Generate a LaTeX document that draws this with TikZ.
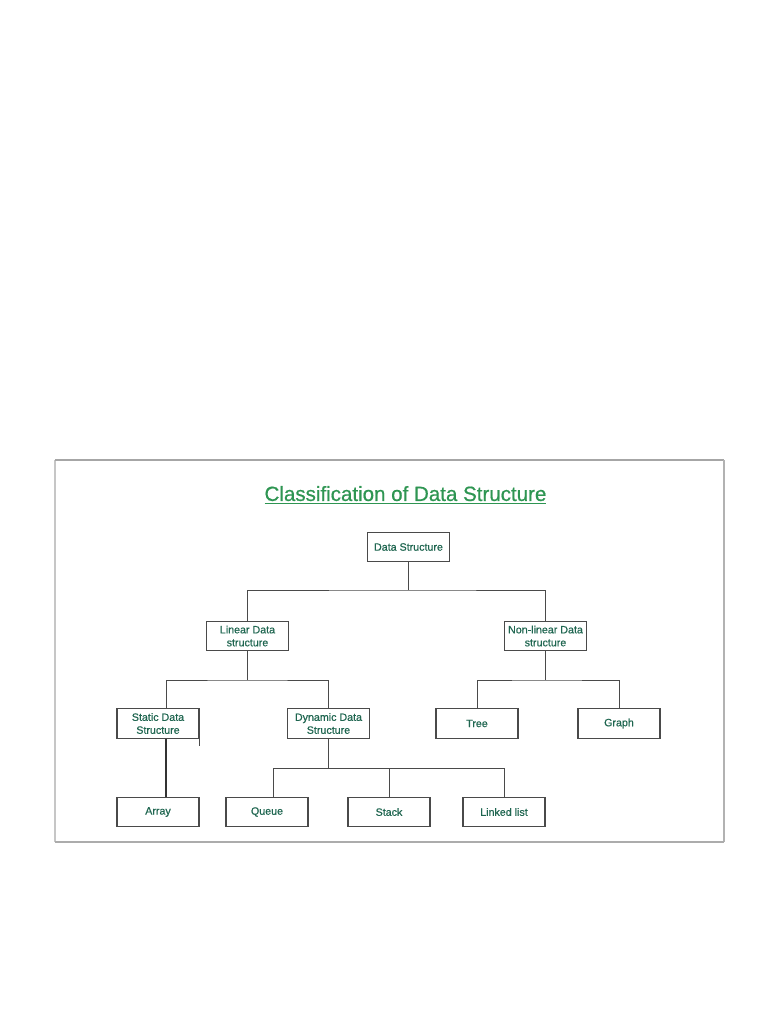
\documentclass[tikz,border=0pt]{standalone}
\usepackage{fontspec}
\setmainfont{Liberation Sans}
\newfontfamily\semib[FakeBold=0.6]{Liberation Sans}
\newfontfamily\titlef[FakeBold=0.7]{Liberation Sans}
\definecolor{titlegreen}{HTML}{2E9552}
\definecolor{boxtext}{HTML}{1F6650}
\definecolor{lineg}{HTML}{4A4A4A}
\begin{document}
\begin{tikzpicture}[x=0.025cm,y=-0.025cm,
  dsbox/.style={draw=lineg,line width=0.8pt,fill=white,minimum width=2.05cm,minimum height=0.74cm,
    inner sep=1pt,align=center,text=boxtext,font=\semib\fontsize{7.6}{9.2}\selectfont},
  conn/.style={draw=lineg,line width=0.7pt}]
\useasboundingbox (0,0) rectangle (768,1024);
% frame
\draw[gray!45,line width=0.8pt] (55,460) -- (55,842);
\draw[gray!70,line width=0.9pt] (55,460) -- (724,460);
\draw[gray!60,line width=1pt] (724,460) -- (724,842);
\draw[gray!65,line width=2pt] (55,842) -- (724,842);
% title
\node[text=titlegreen,font=\titlef\fontsize{14.6}{17}\selectfont] (title) at (405.5,495) {\underline{Classification of Data Structure}};
% nodes
\node[dsbox] (ds) at (408.5,547) {Data Structure};
\node[dsbox] (lin) at (247.5,636) {Linear Data\\structure};
\node[dsbox] (nl) at (545.5,636) {Non-linear Data\\structure};
\node[dsbox] (st) at (158,723.5) {Static Data\\Structure};
\node[dsbox] (dy) at (328.5,723.5) {Dynamic Data\\Structure};
\node[dsbox] (tr) at (477,723.5) {Tree};
\node[dsbox] (gr) at (619,723.5) {Graph};
\node[dsbox] (ar) at (158,812) {Array};
\node[dsbox] (qu) at (267,812) {Queue};
\node[dsbox] (sk) at (389,812) {Stack};
\node[dsbox] (ll) at (504,812) {Linked list};
% junction coordinates
\coordinate (j1) at (408.5,590);
\coordinate (j2) at (247.5,680);
\coordinate (j3) at (545.5,680);
\coordinate (j4) at (328.5,768);
\coordinate (sx) at (166,0);
\coordinate (qx) at (273,0);
% connectors
\draw[conn] (ds) -- (j1);
\draw[conn] (lin.north) |- (j1) -| (nl.north);
\draw[conn] (lin) -- (j2);
\draw[conn] (st.north -| sx) |- (j2) -| (dy.north);
\draw[conn] (nl) -- (j3);
\draw[conn] (tr.north) |- (j3) -| (gr.north);
\draw[conn] (dy) -- (j4);
\draw[conn] (qu.north -| qx) |- (j4);
\draw[conn] (j4) -| (ll.north);
\draw[conn] (sk.north) -- (sk.north |- j4);
\draw[conn,line width=1.2pt,draw=black!80] (st.south -| sx) -- (ar.north -| sx);
\coordinate (tk) at (199,746);
\draw[conn] (st.south east) -- (st.south east |- tk);
\end{tikzpicture}
\end{document}
